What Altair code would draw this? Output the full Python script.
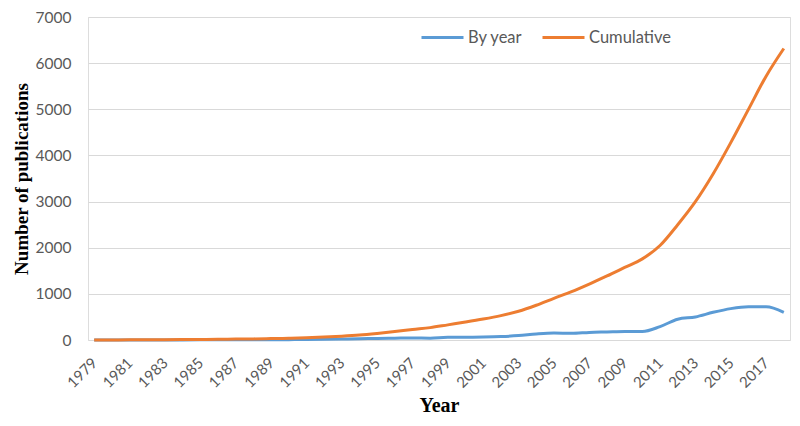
import altair as alt
import pandas as pd

years = [1979, 1980, 1981, 1982, 1983, 1984, 1985, 1986, 1987, 1988,
         1989, 1990, 1991, 1992, 1993, 1994, 1995, 1996, 1997, 1998,
         1999, 2000, 2001, 2002, 2003, 2004, 2005, 2006, 2007, 2008,
         2009, 2010, 2011, 2012, 2013, 2014, 2015, 2016, 2017, 2018]
by_year = [1, 1, 1, 2, 2, 2, 3, 3, 4, 5,
           6, 8, 10, 15, 20, 25, 35, 40, 45, 40,
           60, 60, 65, 75, 95, 130, 150, 145, 165, 175,
           185, 185, 290, 450, 500, 600, 680, 720, 720, 600]
cumulative = [1, 2, 3, 5, 7, 9, 12, 15, 19, 24,
              30, 38, 48, 63, 83, 108, 143, 183, 228, 268,
              328, 388, 453, 528, 623, 753, 903, 1048, 1213, 1388,
              1573, 1758, 2048, 2498, 2998, 3598, 4278, 4998, 5718, 6318]
series_names = ["By year", "Cumulative"]
series_colors = ["#5B9BD5", "#ED7D31"]
y_ticks = [0, 1000, 2000, 3000, 4000, 5000, 6000, 7000]
x_tick_labels = ["1979", "1981", "1983", "1985", "1987", "1989", "1991",
                 "1993", "1995", "1997", "1999", "2001", "2003", "2005",
                 "2007", "2009", "2011", "2013", "2015", "2017"]

rows = []
for yr, a, c in zip(years, by_year, cumulative):
    rows.append({"Year": str(yr), "Series": series_names[0], "Value": a})
    rows.append({"Year": str(yr), "Series": series_names[1], "Value": c})
df = pd.DataFrame(rows)

label_font = "Lato"
label_color = "#595959"

chart = alt.Chart(df).mark_line(strokeWidth=3, interpolate="monotone").encode(
    x=alt.X("Year:O",
            scale=alt.Scale(type="point", padding=0.35),
            axis=alt.Axis(values=x_tick_labels, labelAngle=-45, labelAlign="right",
                          labelBaseline="middle", labelFont=label_font,
                          labelFontSize=15, labelColor=label_color, ticks=False,
                          domain=False, grid=False, labelPadding=20,
                          title="Year", titleFont="Liberation Serif", titleFontSize=20,
                          titleFontWeight="bold", titleColor="#000000", titlePadding=5)),
    y=alt.Y("Value:Q",
            scale=alt.Scale(domain=[0, 7000], nice=False),
            axis=alt.Axis(values=y_ticks, format="d", labelFont=label_font, labelFontSize=15.5,
                          labelColor=label_color, ticks=False, domain=False,
                          grid=True, gridColor="#d9d9d9", gridWidth=1, labelPadding=17,
                          title="Number of publications", titleFont="Liberation Serif",
                          titleFontSize=19, titleFontWeight="bold", titleColor="#000000",
                          titlePadding=4)),
    color=alt.Color("Series:N",
                    scale=alt.Scale(domain=series_names, range=series_colors),
                    legend=alt.Legend(title=None, orient="none", legendX=332, legendY=-2,
                                      direction="horizontal", symbolType="stroke",
                                      symbolStrokeWidth=3, symbolSize=1764,
                                      labelFont=label_font, labelFontSize=16.5,
                                      labelColor=label_color, columnPadding=13,
                                      labelOffset=3)),
).properties(
    width=702, height=323,
    padding={"left": 80, "top": 9, "right": 2, "bottom": 78},
    autosize=alt.AutoSizeParams(type="none"),
).configure_view(stroke=None).configure(background="#ffffff")

chart.save("out.html", embed_options={"renderer": "svg", "actions": False})
